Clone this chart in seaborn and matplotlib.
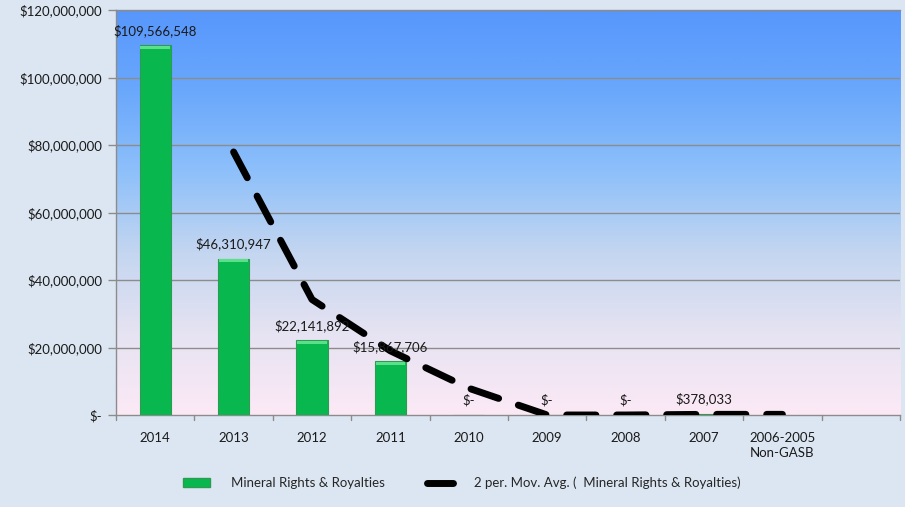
import numpy as np
import pandas as pd
import matplotlib
matplotlib.use("Agg")
import matplotlib.pyplot as plt
from matplotlib.colors import LinearSegmentedColormap
from matplotlib.lines import Line2D
from matplotlib.patches import Patch
import seaborn as sns

# Fiscal-year categories (the last slot is an empty placeholder)
categories = ["2014", "2013", "2012", "2011", "2010", "2009", "2008", "2007",
              "2006-2005\nNon-GASB", " "]
royalties = [109566548, 46310947, 22141892, 15867706, 0, 0, 0, 378033, np.nan, np.nan]
y_ticks = [0, 20e6, 40e6, 60e6, 80e6, 100e6, 120e6]
y_tick_labels = ["$-", "$20,000,000", "$40,000,000", "$60,000,000",
                 "$80,000,000", "$100,000,000", "$120,000,000"]

df = pd.DataFrame({"year": categories, "value": royalties})
# 2-period moving average of the series (blank year counted as zero)
labeled = df["value"].iloc[:9].fillna(0)
mov_avg = labeled.rolling(2).mean()

sns.set_theme(style="white")
plt.rcParams["font.family"] = ["Lato", "DejaVu Sans"]

fig = plt.figure(figsize=(9.05, 5.07), dpi=100)
fig.patch.set_facecolor("#DCE6F2")
ax = fig.add_axes([116 / 905, 1 - 415 / 507, 784 / 905, 405 / 507])

# vertical gradient background of the plot area
grad = LinearSegmentedColormap.from_list(
    "bg", ["#FCE9F6", "#E6E3F2", "#C4D6F0", "#8EC0FA", "#6AA8FC", "#5797FC"])
ax.imshow(np.linspace(0, 1, 256).reshape(-1, 1), cmap=grad, aspect="auto",
          extent=(-0.5, len(categories) - 0.5, 0, 120e6), origin="lower", zorder=0)

for t in y_ticks[1:]:
    ax.axhline(t, color="#8C8C8C", lw=1.0, zorder=1)

sns.barplot(data=df, x="year", y="value", ax=ax, color="#08B84F", width=0.4,
            saturation=1, edgecolor="#2E9A52", linewidth=0.8, zorder=3)

# lighter bevel strip on top of each bar
for p in ax.patches:
    h = p.get_height()
    if np.isfinite(h) and h > 2e6:
        ax.add_patch(plt.Rectangle((p.get_x() + 0.01, h - 1.0e6), p.get_width() - 0.02, 0.9e6,
                                   facecolor="#5BE08A", edgecolor="none", zorder=3.5))

# data labels above each bar
for i, v in enumerate(royalties):
    if np.isnan(v):
        continue
    txt = "$-" if v == 0 else f"${v:,.0f}"
    ax.annotate(txt, (i, v), xytext=(0, 6), textcoords="offset points",
                ha="center", va="bottom", fontsize=9.5, color="#1A1A1A", zorder=5)

ax.plot(np.arange(len(mov_avg)), mov_avg.values, color="black", lw=5,
        dashes=(4.2, 3.0), dash_capstyle="round", solid_capstyle="round", zorder=4)

ax.set_xlim(-0.5, len(categories) - 0.5)
ax.set_ylim(0, 120e6)
ax.set_yticks(y_ticks)
ax.set_yticklabels(y_tick_labels, fontsize=9.5, color="#1A1A1A")
ax.set_xticks(range(len(categories)))
ax.set_xticklabels(categories, fontsize=9.5, color="#1A1A1A", linespacing=1.35)
ax.set_xlabel("")
ax.set_ylabel("")
ax.tick_params(axis="x", length=0, pad=12)
ax.tick_params(axis="y", length=6, color="#8C8C8C", width=1, pad=4, left=True)
# category boundary tick marks on the x axis
for b in np.arange(-0.5, len(categories) + 0.5, 1.0):
    ax.plot([b, b], [0, -1.6e6], color="#8C8C8C", lw=1, clip_on=False, zorder=2)

for s in ["left", "bottom", "top"]:
    ax.spines[s].set_visible(True)
    ax.spines[s].set_color("#8C8C8C")
    ax.spines[s].set_linewidth(1)
ax.spines["right"].set_visible(False)

handles = [Patch(facecolor="#08B84F", edgecolor="#2E9A52", label="Mineral Rights & Royalties"),
           Line2D([0], [0], color="black", lw=5, solid_capstyle="round",
                  label="2 per. Mov. Avg. (  Mineral Rights & Royalties)")]
fig.legend(handles=handles, loc="center", bbox_to_anchor=(462 / 905, 1 - 483 / 507),
           ncol=2, frameon=False, fontsize=9.5, handlelength=2.0, handleheight=0.6,
           columnspacing=3.2, handletextpad=1.6)

fig.savefig("out.png", dpi=100, facecolor=fig.get_facecolor())
